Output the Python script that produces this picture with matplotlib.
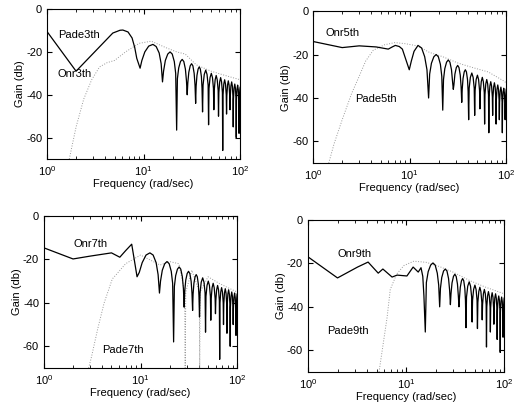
import numpy as np
import matplotlib
matplotlib.use('Agg')
import matplotlib.pyplot as plt

plt.rcParams['font.family'] = ['Liberation Sans', 'DejaVu Sans']
plt.rcParams['axes.unicode_minus'] = False

# shared frequency grid for the oscillating part (rad/sec)
w_hi = [15.7, 16.1, 16.8, 17.8, 18.8, 19.8, 20.8, 21.5,
        22.0, 22.4, 23.1, 24.1, 25.1, 26.1, 27.1, 27.8,
        28.3, 28.7, 29.4, 30.4, 31.4, 32.4, 33.4, 34.1,
        34.6, 35.0, 35.7, 36.7, 37.7, 38.7, 39.7, 40.3,
        40.8, 41.3, 42.5, 44.0, 45.4, 46.6,
        47.1, 47.6, 48.8, 50.3, 51.7, 52.9,
        53.4, 53.9, 55.1, 56.5, 57.9, 59.2,
        59.7, 60.2, 61.4, 62.8, 64.2, 65.5,
        66.0, 66.5, 67.7, 69.1, 70.5, 71.8,
        72.3, 72.8, 74.0, 75.4, 76.8, 78.0,
        78.5, 79.0, 80.2, 81.7, 83.1, 84.3,
        84.8, 85.3, 86.5, 88.0, 89.4, 90.6,
        91.1, 91.6, 92.8, 94.2, 95.6, 96.9,
        97.4, 97.9, 99.1, 100.0]

# Onr 3th
w_lo3 = [1.0, 2.0, 4.8, 5.7, 6.1, 6.9, 7.6, 8.1, 8.5, 9.2, 9.6, 10.3, 11.3, 12.5, 13.5, 14.5, 15.2]
g_lo3 = [-10.5, -29, -11.2, -9.9, -9.8, -10.7, -13.5, -18, -23, -27.6, -24, -20, -17.3, -16.5, -17.5, -20.5, -25.5]
g_hi3 = [-34, -29, -24, -21, -20, -21, -24.5, -30,
         -56.5, -32.5, -27.5, -24.5, -23.5, -24.5, -28, -33.5,
         -40, -34.5, -29.5, -26.5, -25.5, -26.5, -30, -35.5,
         -44, -36, -31, -28, -27, -28, -31.5, -37,
         -48, -35.5, -30.5, -28.5, -30.5, -35.5,
         -54, -37, -32, -30, -32, -37,
         -47, -38, -33, -31, -33, -38,
         -50, -39, -34, -32, -34, -39,
         -66, -40, -35, -33, -35, -40,
         -49, -40.5, -35.5, -33.5, -35.5, -40.5,
         -47, -41, -36, -34, -36, -41,
         -55, -42, -37, -35, -37, -42,
         -60, -42.5, -37.5, -35.5, -37.5, -42.5,
         -58, -43, -38, -36.5]

# Onr 5th
w_lo5 = [1.0, 2.0, 3.0, 4.5, 6.0, 6.6, 7.1, 7.8, 8.4, 9.0, 9.9, 10.4, 11.1, 12.2, 13.3, 14.3, 15.1]
g_lo5 = [-14, -16.8, -16, -16.5, -17.5, -16.5, -15.8, -16.3, -17.5, -21.5, -27, -23, -18.5, -15.8, -17, -21, -27]
g_hi5 = [-40, -29, -24, -21, -20, -21, -24.5, -30,
         -45.6, -31.5, -26.5, -23.5, -22.5, -23.5, -27, -32.5,
         -36, -34, -29, -26, -25, -26, -29.5, -35,
         -42, -36, -31, -28, -27, -28, -31.5, -37,
         -50, -35.5, -30.5, -28.5, -30.5, -35.5,
         -48, -36.5, -31.5, -29.5, -31.5, -36.5,
         -45, -37.5, -32.5, -30.5, -32.5, -37.5,
         -52, -38.5, -33.5, -31.5, -33.5, -38.5,
         -56, -39.5, -34.5, -32.5, -34.5, -39.5,
         -48, -40, -35, -33, -35, -40,
         -52, -41, -36, -34, -36, -41,
         -50, -42, -37, -35, -37, -42,
         -56, -42.5, -37.5, -35.5, -37.5, -42.5,
         -50, -43, -38, -36]

# Onr 7th
w_lo7 = [1.0, 2.0, 3.0, 5.0, 6.1, 7.0, 8.1, 8.6, 9.2, 9.7, 10.4, 11.4, 12.5, 13.5, 14.5, 15.2]
g_lo7 = [-14.7, -19.8, -18.5, -17, -19, -16, -13, -20, -28, -26, -21.5, -18, -17, -18, -21.5, -27]
g_hi7 = [-35.5, -30, -25, -22, -21, -22, -25.5, -31,
         -58, -32.5, -27.5, -24.5, -23.5, -24.5, -28, -33.5,
         -42, -34.5, -29.5, -26.5, -25.5, -26.5, -30, -35.5,
         -43.5, -36, -31, -28, -27, -28, -31.5, -37,
         -46.5, -35.5, -30.5, -28.5, -30.5, -35.5,
         -53.5, -37, -32, -30, -32, -37,
         -48, -38, -33, -31, -33, -38,
         -45, -39, -34, -32, -34, -39,
         -66, -40, -35, -33, -35, -40,
         -50, -40.5, -35.5, -33.5, -35.5, -40.5,
         -54, -41, -36, -34, -36, -41,
         -60, -42, -37, -35, -37, -42,
         -50, -42.5, -37.5, -35.5, -37.5, -42.5,
         -55, -43, -38, -36]

# Onr 9th
w_lo9 = [1.0, 2.0, 3.2, 4.1, 5.2, 5.8, 7.2, 8.1, 10.2, 11.8, 13.3, 14.2, 14.8, 15.2]
g_lo9 = [-17, -26.7, -21.7, -19.4, -24.5, -22.6, -26.3, -25.4, -25.8, -21.7, -24, -22, -26, -35]
g_hi9 = [-51.6, -28.8, -23.8, -20.8, -19.8, -20.8, -24.5, -30,
         -40, -31.5, -26.5, -23.5, -22.6, -23.5, -27, -32.5,
         -39, -34, -29, -26, -25, -26, -29.5, -35,
         -40, -36, -31, -28, -27, -28, -31.5, -37,
         -49.6, -35.5, -30.5, -28.5, -30.5, -35.5,
         -47, -37, -32, -30, -32, -37,
         -50, -38, -33, -31, -33, -38,
         -46, -39, -34, -32, -34, -39,
         -58.5, -40, -35, -33, -35, -40,
         -51.6, -40.5, -35.5, -33.5, -35.5, -40.5,
         -48, -41, -36, -34, -36, -41,
         -55, -42, -37, -35, -37, -42,
         -61, -42.5, -37.5, -35.5, -37.5, -42.5,
         -54, -43, -38, -36]

# Pade curves (dotted, faint in the scan)
wp3 = [1.7, 2.0, 2.4, 2.9, 3.5, 4.2, 5.0, 6.5, 9, 12, 17, 22, 27, 35, 50, 70, 100]
gp3 = [-70, -55, -42, -33, -27, -25, -24, -20, -16, -15, -18, -20, -21, -26, -29, -31, -33]
wp5 = [1.45, 1.65, 2.0, 2.5, 3.0, 3.5, 4.2, 5.5, 7, 9, 12, 16, 22, 32, 45, 65, 93, 100]
gp5 = [-70, -61, -50, -38, -30, -23, -18, -15.5, -14.5, -15, -16, -19, -21, -24, -26, -28, -32, -33]
wp7 = [2.9, 3.1, 3.6, 4.2, 5.1, 5.6, 7, 10, 15.9, 20, 25, 28.6, 29, 29, 29.4, 34, 40.6, 41, 41, 41.4, 50, 65, 80, 100]
gp7 = [-70, -65, -52, -40, -29, -27, -22, -18, -22.6, -21, -22, -35, -70, -70, -35, -25, -35, -70, -70, -35, -28, -31, -33, -35]
wp9 = [5.3, 5.8, 6.4, 6.9, 8, 9.5, 12, 16, 22, 30, 45, 65, 100]
gp9 = [-70, -58, -45, -32, -25, -21, -19, -19.5, -21.5, -24, -28, -31, -34]

panels = [
    ([0.0913, 0.613, 0.375, 0.365], w_lo3, g_lo3, g_hi3, wp3, gp3,
     [('Pade3th', 1.30, -12.1), ('Onr3th', 1.27, -30.3)]),
    ([0.608, 0.603, 0.375, 0.370], w_lo5, g_lo5, g_hi5, wp5, gp5,
     [('Onr5th', 1.33, -10.1), ('Pade5th', 2.72, -40.6)]),
    ([0.0854, 0.1046, 0.375, 0.370], w_lo7, g_lo7, g_hi7, wp7, gp7,
     [('Onr7th', 2.0, -13), ('Pade7th', 3.98, -61.7)]),
    ([0.598, 0.0949, 0.381, 0.370], w_lo9, g_lo9, g_hi9, wp9, gp9,
     [('Onr9th', 2.02, -15.7), ('Pade9th', 1.56, -51)]),
]

fig = plt.figure(figsize=(5.15, 4.11), dpi=100)
for rect, wl, gl, gh, wp, gp, labels in panels:
    ax = fig.add_axes(rect)
    w = np.concatenate([wl, w_hi])
    g = np.concatenate([gl, gh])
    ax.semilogx(wp, gp, ':', color='0.6', lw=0.7)
    ax.semilogx(w, g, '-', color='k', lw=0.9)
    ax.set_xlim(1, 100)
    ax.set_ylim(-70, 0)
    ax.set_yticks([0, -20, -40, -60])
    ax.tick_params(which='both', direction='in', top=True, right=True, labelsize=8)
    ax.tick_params(which='major', length=3.5)
    ax.tick_params(which='minor', length=2)
    ax.set_xlabel('Frequency (rad/sec)', fontsize=8, labelpad=1)
    ax.set_ylabel('Gain (db)', fontsize=8, labelpad=1)
    for txt, x, y in labels:
        ax.text(x, y, txt, fontsize=8, va='center', ha='left')

plt.savefig('out.png', dpi=100)
